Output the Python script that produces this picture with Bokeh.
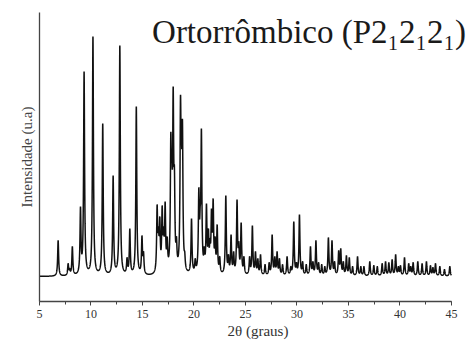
import numpy as np
from bokeh.plotting import figure
from bokeh.models import Range1d, Label, SingleIntervalTicker, FixedTicker
from bokeh.embed import file_html
from bokeh.resources import INLINE

# Reflection list: 2θ position (degrees) and observed peak height (a.u.)
peak_pos = [
    6.81, 7.78, 7.93, 8.19, 8.98, 9.33, 10.19, 11.14, 12.15, 12.80,
    13.50, 13.77, 14.40, 14.95, 15.10,
    16.42, 16.55, 16.68, 16.91, 17.05, 17.20, 17.40, 17.75, 17.85, 17.98,
    18.10, 18.30, 18.69, 18.78, 18.88, 19.10, 19.76, 20.12, 20.47, 20.60,
    20.72, 21.00, 21.21, 21.40, 21.55, 21.70, 21.86, 22.05, 22.25, 22.50,
    23.09, 23.35, 23.60, 23.85, 24.18, 24.35, 24.58, 24.85, 25.40, 25.67,
    25.97, 26.20, 26.46, 26.90, 27.30, 27.59, 27.85, 28.07, 28.30, 28.60,
    29.04, 29.40, 29.69, 29.95, 30.24, 30.55, 30.90, 31.31, 31.55, 31.84,
    32.10, 32.40, 32.70, 33.05, 33.40, 33.65, 34.05, 34.25, 34.50, 34.80,
    35.08, 35.40, 35.88, 36.20, 36.50, 37.07, 37.46, 37.80, 38.27, 38.60,
    38.92, 39.24, 39.58, 39.85, 40.05, 40.44, 40.85, 41.05, 41.28, 41.73,
    42.15, 42.57, 42.96, 43.20, 43.45, 43.87, 44.32, 44.84,
]
peak_int = [
    36, 13, 8, 30, 70, 205, 240, 153, 101, 231,
    19, 48, 170, 41, 25,
    72, 50, 60, 71, 50, 75, 40, 144, 120, 190,
    110, 40, 181, 140, 157, 25, 58, 18, 89, 70,
    148, 30, 73, 48, 38, 68, 78, 40, 52, 20,
    81, 22, 42, 25, 77, 35, 54, 20, 20, 51,
    25, 18, 22, 12, 14, 42, 20, 25, 18, 12,
    20, 10, 55, 14, 62, 15, 12, 30, 15, 36,
    14, 12, 10, 39, 36, 15, 26, 28, 15, 21,
    19, 10, 20, 10, 10, 15, 11, 10, 13, 15,
    14, 17, 22, 10, 11, 19, 13, 10, 14, 15,
    13, 15, 11, 9, 13, 10, 7, 10,
]
peak_hwhm = 0.055  # Lorentzian half width (degrees)

# Diffractogram built from the reflection list (Lorentzian profiles)
two_theta = np.arange(5.0, 45.0001, 0.005)
pos = np.array(peak_pos)
obs = np.array(peak_int, dtype=float)


def lorentz(x, c):
    return peak_hwhm ** 2 / ((x - c) ** 2 + peak_hwhm ** 2)


# amplitudes chosen so that the summed profile reproduces the observed heights
overlap = lorentz(pos[:, None], pos[None, :])
amp = obs.copy()
for _ in range(200):
    amp = np.clip(amp + (obs - overlap @ amp), 0, None)

intensity = np.zeros_like(two_theta)
for c, a in zip(pos, amp):
    intensity += a * lorentz(two_theta, c)

serif = "Liberation Serif"
ink = "#444444"

p = figure(
    width=476, height=343,
    x_range=Range1d(5, 47.43), y_range=Range1d(-25, 264),
    output_backend="svg", toolbar_location=None,
    min_border_left=39, min_border_right=0,
    min_border_top=12, min_border_bottom=42,
)
p.outline_line_color = None
p.xgrid.visible = False
p.ygrid.visible = False
p.background_fill_color = "white"
p.border_fill_color = "white"

p.line(two_theta, intensity, line_color="#111111", line_width=1.5)

# x axis, drawn over 5-45 only
xa = p.xaxis[0]
xa.bounds = (5, 45)
xa.ticker = SingleIntervalTicker(interval=5, num_minor_ticks=2)
xa.axis_label = "2θ (graus)"
xa.axis_label_text_font = serif
xa.axis_label_text_font_style = "normal"
xa.axis_label_text_font_size = "15px"
xa.axis_label_text_color = "#333333"
xa.axis_label_standoff = 2
xa.major_label_text_font = serif
xa.major_label_text_font_size = "12px"
xa.major_label_text_color = "#333333"
xa.major_label_standoff = 4
xa.axis_line_color = ink
xa.axis_line_width = 1.3
xa.major_tick_line_color = ink
xa.minor_tick_line_color = ink
xa.major_tick_out = 4
xa.major_tick_in = 0
xa.minor_tick_out = 3
xa.minor_tick_in = 0

# y axis: line and title only
ya = p.yaxis[0]
ya.ticker = FixedTicker(ticks=[])
ya.axis_label = "Intensidade (u.a)"
ya.axis_label_text_font = serif
ya.axis_label_text_font_style = "normal"
ya.axis_label_text_font_size = "15px"
ya.axis_label_text_color = ink
ya.axis_label_standoff = 5
ya.major_tick_out = 0
ya.major_tick_in = 0
ya.major_label_standoff = 0
ya.major_label_text_font_size = "0px"
ya.axis_line_color = ink
ya.axis_line_width = 1.3

title = Label(
    x=46.42, y=245, text="Ortorrômbico (P2₁2₁2₁)",
    text_font=serif, text_font_size="33px", text_color="#1a1a1a",
    text_align="right", text_baseline="alphabetic",
)
p.add_layout(title)

open("out.html", "w").write(file_html(p, INLINE))
